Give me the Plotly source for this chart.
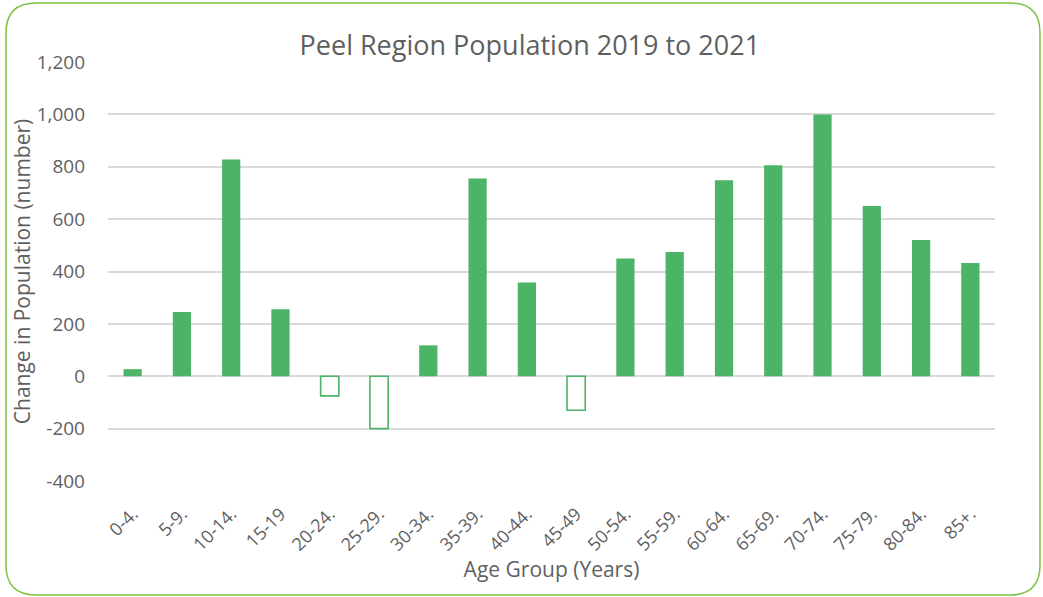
import plotly.graph_objects as go

age_groups = ["0-4.", "5-9.", "10-14.", "15-19", "20-24.", "25-29.", "30-34.", "35-39.", "40-44.",
              "45-49", "50-54.", "55-59.", "60-64.", "65-69.", "70-74.", "75-79.", "80-84.", "85+."]
change = [27, 245, 828, 256, -75, -200, 118, 755, 358, -130, 450, 474, 748, 806, 1000, 650, 520, 432]
y_ticks = [-400, -200, 0, 200, 400, 600, 800, 1000, 1200]
y_tick_labels = ["-400", "-200", "0", "200", "400", "600", "800", "1,000", "1,200"]

GREEN = "#4cb466"
W, H = 1043, 597
L, R, T, B = 108, 48, 62, 116

fill = [GREEN if v >= 0 else "white" for v in change]
lw = [0 if v >= 0 else 1.6 for v in change]

fig = go.Figure(go.Bar(
    x=age_groups, y=change,
    marker=dict(color=fill, line=dict(color=GREEN, width=lw)),
    width=0.37,
))

def px2paper(x, y):
    return (x - L) / (W - L - R), (H - B - y) / (H - T - B)

def border_path(x0, y0, x1, y1, r):
    def p(x, y):
        a, b = px2paper(x, y)
        return f"{a:.5f},{b:.5f}"
    return (f"M {p(x0 + r, y0)} L {p(x1 - r, y0)} Q {p(x1, y0)} {p(x1, y0 + r)} "
            f"L {p(x1, y1 - r)} Q {p(x1, y1)} {p(x1 - r, y1)} "
            f"L {p(x0 + r, y1)} Q {p(x0, y1)} {p(x0, y1 - r)} "
            f"L {p(x0, y0 + r)} Q {p(x0, y0)} {p(x0 + r, y0)} Z")

fig.add_shape(type="path", xref="paper", yref="paper",
              path=border_path(6, 3, 1040, 595, 30),
              line=dict(color="#7cc242", width=1.5), layer="below")

FONT = "Open Sans"
GRAY = "#5f5f5f"
fig.update_layout(
    width=W, height=H,
    margin=dict(l=L, r=R, t=T, b=B),
    paper_bgcolor="white", plot_bgcolor="white",
    showlegend=False,
    title=dict(text="Peel Region Population 2019 to 2021", x=0.508, xanchor="center",
               y=1 - 46 / H, yanchor="middle",
               font=dict(family=FONT, size=27, color=GRAY)),
    font=dict(family=FONT, color=GRAY),
    xaxis=dict(tickangle=-45, tickfont=dict(size=18, color=GRAY), ticklabelstandoff=18,
               title=dict(text="Age Group (Years)", font=dict(size=21, color=GRAY), standoff=0),
               showline=False, ticks="", showgrid=False),
    yaxis=dict(range=[-400, 1200], tickvals=y_ticks, ticktext=y_tick_labels,
               tickfont=dict(size=19, color=GRAY), ticklabelstandoff=22,
               title=dict(text="Change in Population (number)", font=dict(size=21, color=GRAY), standoff=0),
               gridcolor="#dadada", gridwidth=1.5,
               zeroline=True, zerolinecolor="#dadada", zerolinewidth=1.5,
               showline=False, ticks=""),
)

fig.write_html("out.html")
